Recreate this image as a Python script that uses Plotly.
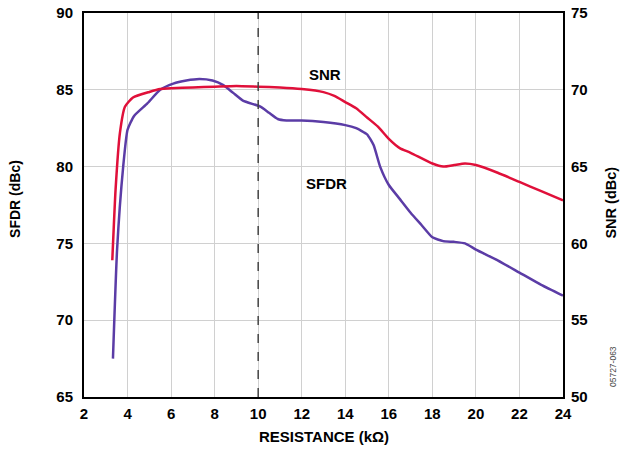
import plotly.graph_objects as go

snr_x = [3.3, 3.45, 3.65, 3.88, 4.25, 5.0, 5.5, 6, 7, 8, 9, 10, 11, 12, 13, 13.5, 14, 14.5, 15, 15.5,
         16, 16.5, 17, 18, 18.5, 19, 19.5, 20, 21, 22, 23, 24]
snr_y = [58.9, 63.5, 67.2, 68.9, 69.5, 69.86, 70.05, 70.1, 70.15, 70.2, 70.25, 70.2, 70.15, 70.05, 69.85,
         69.6, 69.2, 68.8, 68.2, 67.6, 66.8, 66.2, 65.9, 65.2, 65.0, 65.1, 65.2, 65.1, 64.6, 64.0, 63.4, 62.8]

sfdr_x = [3.33, 3.52, 3.8, 4.0, 4.3, 4.9, 5.5, 6.1, 6.7, 7.3, 7.9, 8.4, 8.85, 9.3, 10.1, 10.5, 10.9,
          11.3, 12, 13, 14, 14.5, 15, 15.3, 15.6, 16, 16.5, 17, 17.5, 18, 18.5, 19, 19.5, 20, 21, 22, 23, 24]
sfdr_y = [67.5, 74.6, 80.0, 82.4, 83.3, 84.1, 85.0, 85.4, 85.6, 85.7, 85.6, 85.3, 84.8, 84.3, 83.9, 83.5,
          83.1, 83.0, 83.0, 82.9, 82.7, 82.5, 82.1, 81.4, 80.0, 78.8, 77.9, 77.0, 76.2, 75.4, 75.15, 75.1,
          75.0, 74.6, 73.9, 73.1, 72.3, 71.6]

x_ticks = [2, 4, 6, 8, 10, 12, 14, 16, 18, 20, 22, 24]
sfdr_ticks = [65, 70, 75, 80, 85, 90]
snr_ticks = [50, 55, 60, 65, 70, 75]

RED = "#E0103A"
PURPLE = "#5B3CA6"
FONT = "Liberation Sans"

fig = go.Figure()
fig.add_trace(go.Scatter(x=sfdr_x, y=sfdr_y, mode="lines",
                         line=dict(color=PURPLE, width=2.5, shape="spline", smoothing=0.5),
                         yaxis="y", showlegend=False))
fig.add_trace(go.Scatter(x=snr_x, y=snr_y, mode="lines",
                         line=dict(color=RED, width=2.5, shape="spline", smoothing=0.5),
                         yaxis="y2", showlegend=False))

fig.add_vline(x=10, line=dict(color="#444444", width=1.5, dash="dash"))

lab_font = dict(family=FONT, size=15, color="black")
fig.add_annotation(x=13.07, y=86.0, text="<b>SNR</b>", showarrow=False, font=lab_font)
fig.add_annotation(x=13.15, y=78.9, text="<b>SFDR</b>", showarrow=False, font=lab_font)

# axis titles as annotations for exact placement
fig.add_annotation(xref="paper", yref="paper", x=0.5, y=-0.104, text="<b>RESISTANCE (kΩ)</b>",
                   showarrow=False, font=lab_font, yanchor="middle")
fig.add_annotation(xref="paper", yref="paper", x=-0.144, y=0.516, text="<b>SFDR (dBc)</b>", textangle=-90,
                   showarrow=False, font=dict(family=FONT, size=14, color="black"), xanchor="center", yanchor="middle")
fig.add_annotation(xref="paper", yref="paper", x=1.100, y=0.506, text="<b>SNR (dBc)</b>", textangle=-90,
                   showarrow=False, font=dict(family=FONT, size=14.5, color="black"), xanchor="center", yanchor="middle")
fig.add_annotation(xref="paper", yref="paper", x=1.106, y=0.08, text="05727-063", textangle=-90, showarrow=False,
                   font=dict(family=FONT, size=8.5, color="#444444"), xanchor="center", yanchor="middle")

axis_font = dict(family=FONT, size=15, color="black")
fig.update_layout(
    width=621, height=449,
    margin=dict(l=84, r=58, t=13, b=52, autoexpand=False),
    paper_bgcolor="white", plot_bgcolor="white",
    font=dict(family=FONT, color="black"),
    xaxis=dict(range=[2, 24], tickvals=x_ticks, ticktext=[f"<b>{v}</b>" for v in x_ticks], tickfont=axis_font,
               showgrid=True, gridcolor="#D0D0D0", gridwidth=1.3, showline=True, linecolor="black", linewidth=2,
               mirror=True, ticks="", zeroline=False, automargin=False, ticklabelstandoff=2),
    yaxis=dict(range=[65, 90], tickvals=sfdr_ticks, ticktext=[f"<b>{v}</b>" for v in sfdr_ticks], tickfont=axis_font,
               showgrid=True, gridcolor="#D0D0D0", gridwidth=1.3, showline=True, linecolor="black", linewidth=2,
               mirror=True, ticks="", zeroline=False, ticklabelstandoff=6, automargin=False),
    yaxis2=dict(range=[50, 75], tickvals=snr_ticks, ticktext=[f"<b>{v}</b>" for v in snr_ticks], tickfont=axis_font,
                overlaying="y", side="right", showgrid=False, showline=False, ticks="", zeroline=False,
                ticklabelstandoff=7, automargin=False),
)

fig.write_html("out.html", config={"displayModeBar": False},
               post_script="document.body.style.margin='0';document.body.style.padding='0';")
